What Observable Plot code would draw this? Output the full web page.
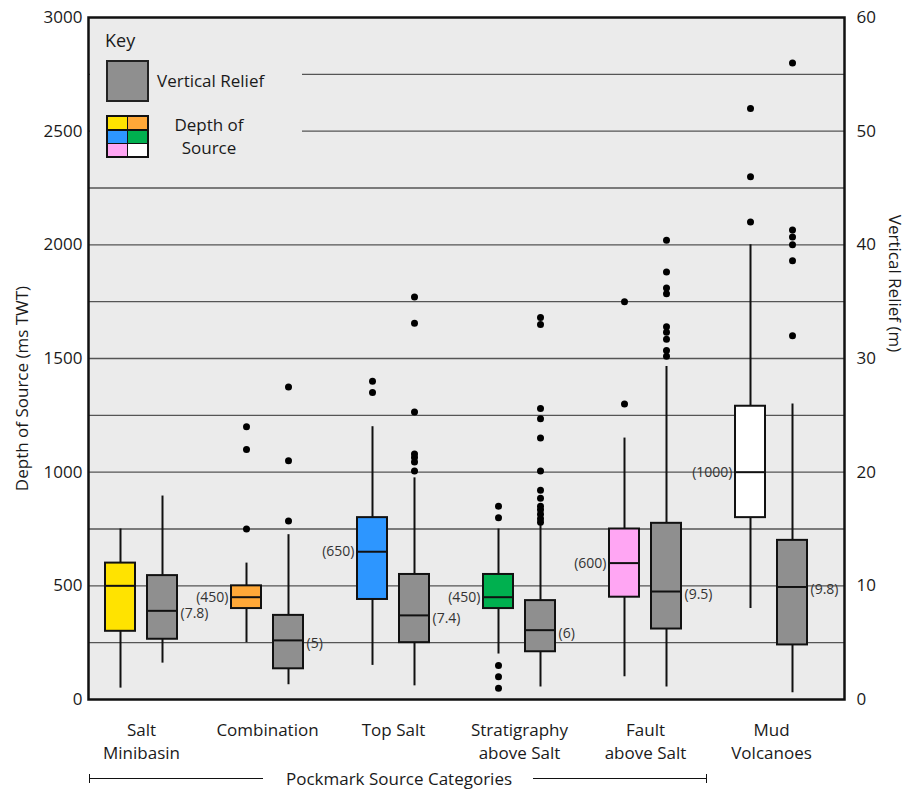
<!DOCTYPE html>
<html><head><meta charset="utf-8">
<script src="https://cdn.jsdelivr.net/npm/d3@7"></script>
<script src="https://cdn.jsdelivr.net/npm/@observablehq/plot@0.6"></script>
<style>
body{margin:0;background:#fff;font-family:"Open Sans",sans-serif;color:#1a1a1a;}
#wrap{position:relative;width:906px;}
#key{position:absolute;left:90px;top:19px;width:212px;height:158px;background:#ebebeb;}
#key .t{position:absolute;white-space:nowrap;}
#key .sq{position:absolute;left:16px;top:41px;width:43px;height:42px;box-sizing:border-box;border:2px solid #222;background:#8f8f8f;}
#key .grid{position:absolute;left:16px;top:96px;width:43px;height:43px;box-sizing:border-box;border:2px solid #111;background:#111;display:grid;grid-template-columns:1fr 1fr;grid-template-rows:1fr 1fr 1fr;gap:1.5px;}
#caption{position:relative;height:25px;width:906px;}
#caption .ln{position:absolute;top:12px;height:0;border-top:1.5px solid #111;}
#caption .tk{position:absolute;top:8px;height:9px;width:0;border-left:1.5px solid #111;}
#caption .title{position:absolute;left:0;width:798px;top:0;line-height:25px;text-align:center;font-size:17px;}
</style></head>
<body>
<div id="wrap"></div>
<script>
// ---- data ----
const categories = ["Salt\nMinibasin", "Combination", "Top Salt", "Stratigraphy\nabove Salt", "Fault\nabove Salt", "Mud\nVolcanoes"];
const depthColors = ["#ffe300", "#ffa838", "#2d96ff", "#00b04f", "#ffa6f3", "#ffffff"];
const reliefColor = "#8f8f8f";

// Depth of source (ms TWT)
const depthLow    = [50, 250, 150, 200, 100, 400];
const depthQ1     = [300, 400, 440, 400, 450, 800];
const depthMedian = [500, 450, 650, 450, 600, 1000];
const depthQ3     = [600, 500, 800, 550, 750, 1290];
const depthHigh   = [750, 600, 1200, 750, 1150, 2000];
const depthOutliers = [[], [750, 1100, 1200], [1350, 1400], [50, 100, 150, 800, 850], [1300, 1750], [2100, 2300, 2600]];
const depthLabels = ["", "(450)", "(650)", "(450)", "(600)", "(1000)"];

// Vertical relief (m)
const reliefLow    = [3.2, 1.3, 1.2, 1.1, 1.1, 0.6];
const reliefQ1     = [5.3, 2.7, 5.0, 4.2, 6.2, 4.8];
const reliefMedian = [7.8, 5.2, 7.4, 6.1, 9.5, 9.9];
const reliefQ3     = [10.9, 7.4, 11.0, 8.7, 15.5, 14.0];
const reliefHigh   = [17.9, 14.5, 19.5, 15.3, 29.3, 26.0];
const reliefOutliers = [[], [15.7, 21.0, 27.5], [20.1, 20.9, 21.3, 21.6, 25.3, 33.1, 35.4],
  [15.6, 15.9, 16.3, 16.7, 17.0, 17.7, 18.4, 20.1, 23.0, 24.7, 25.6, 33.0, 33.6],
  [30.2, 30.7, 31.7, 32.3, 32.8, 35.7, 36.2, 37.6, 40.4], [32.0, 38.6, 40.0, 40.7, 41.3, 56.0]];
const reliefLabels = ["(7.8)", "(5)", "(7.4)", "(6)", "(9.5)", "(9.8)"];

// axes
const depthTicks = [0, 500, 1000, 1500, 2000, 2500, 3000];
const gridLines = [250, 500, 750, 1000, 1250, 1500, 1750, 2000, 2250, 2500, 2750];
const msPerMetre = 50; // right axis: 0–60 m against 0–3000 ms

// ---- tables ----
const depthRows = categories.map((c, i) => ({cat: c, low: depthLow[i], q1: depthQ1[i], med: depthMedian[i], q3: depthQ3[i], high: depthHigh[i], color: depthColors[i], label: depthLabels[i]}));
const reliefRows = categories.map((c, i) => ({cat: c, low: reliefLow[i] * msPerMetre, q1: reliefQ1[i] * msPerMetre, med: reliefMedian[i] * msPerMetre, q3: reliefQ3[i] * msPerMetre, high: reliefHigh[i] * msPerMetre, color: reliefColor, label: reliefLabels[i]}));
const depthOut = categories.flatMap((c, i) => depthOutliers[i].map(v => ({cat: c, v})));
const reliefOut = categories.flatMap((c, i) => reliefOutliers[i].map(v => ({cat: c, v: v * msPerMetre})));

const ink = "#111";
function boxMarks(rows, outs, dx, labelSide, labelDy) {
  return [
    Plot.ruleX(rows, {x: "cat", y1: "low", y2: "high", dx, stroke: ink, strokeWidth: 2}),
    Plot.barY(rows, {x: "cat", y1: "q1", y2: "q3", fill: "color", stroke: ink, strokeWidth: 2, insetLeft: 48, insetRight: 48, dx}),
    Plot.tickY(rows, {x: "cat", y: "med", stroke: ink, strokeWidth: 2, insetLeft: 48, insetRight: 48, dx}),
    Plot.dot(outs, {x: "cat", y: "v", r: 3.5, fill: "#000", stroke: "none", dx}),
    Plot.text(rows.filter(d => d.label), {x: "cat", y: "med", text: "label", fontSize: 14, fill: "#333",
      dx: dx + labelSide * 18, dy: labelDy, textAnchor: labelSide < 0 ? "end" : "start"})
  ];
}

const chart = Plot.plot({
  width: 906,
  height: 766,
  marginTop: 17,
  marginLeft: 88,
  marginRight: 62,
  marginBottom: 67,
  style: {fontFamily: "'Open Sans', sans-serif", fontSize: "17px", color: "#1a1a1a", background: "#fff"},
  x: {type: "band", domain: categories, padding: 0, insetLeft: -10, insetRight: 10, label: null},
  y: {domain: [0, 3000], label: null},
  color: {type: "identity"},
  marks: [
    Plot.frame({fill: "#ebebeb", stroke: "none"}),
    Plot.ruleY(gridLines, {stroke: "#555", strokeWidth: 1.3}),
    Plot.axisY(depthTicks, {anchor: "left", tickSize: 0, tickPadding: 6, fontSize: 17, tickFormat: d => String(d), label: null}),
    Plot.axisY(depthTicks, {anchor: "right", tickSize: 0, tickPadding: 12, fontSize: 17, tickFormat: d => String(d / msPerMetre), label: null}),
    Plot.axisX({tickSize: 0, tickPadding: 21, fontSize: 17, lineHeight: 1.31, label: null}),
    ...boxMarks(depthRows, depthOut, -21, -1, 0),
    ...boxMarks(reliefRows, reliefOut, 21, 1, 3),
    Plot.frame({stroke: ink, strokeWidth: 2.5}),
    Plot.text(["Depth of Source (ms TWT)"], {text: d => d, frameAnchor: "left", textAnchor: "middle", rotate: -90, dx: -66, dy: 30, fontSize: 17}),
    Plot.text(["Vertical Relief (m)"], {text: d => d, frameAnchor: "right", textAnchor: "middle", rotate: 90, dx: 50, dy: -75, fontSize: 17})
  ]
});

const wrap = document.getElementById("wrap");
wrap.appendChild(chart);

// key (legend)
const key = document.createElement("div");
key.id = "key";
key.innerHTML = `
  <div class="t" style="left:15px;top:9px;font-size:18px;line-height:24px;">Key</div>
  <div class="sq" style="background:${reliefColor}"></div>
  <div class="t" style="left:67px;top:50px;font-size:17px;line-height:24px;">Vertical Relief</div>
  <div class="grid">${depthColors.map(c => `<div style="background:${c}"></div>`).join("")}</div>
  <div class="t" style="left:69px;top:94px;width:100px;text-align:center;font-size:17px;line-height:23px;">Depth of<br>Source</div>`;
wrap.appendChild(key);

// caption with bracket
const cap = document.createElement("div");
cap.id = "caption";
cap.innerHTML = `
  <div class="tk" style="left:89px"></div>
  <div class="ln" style="left:89px;width:174px"></div>
  <div class="title">Pockmark Source Categories</div>
  <div class="ln" style="left:533px;width:174px"></div>
  <div class="tk" style="left:706px"></div>`;
document.body.appendChild(cap);
</script>
</body></html>
